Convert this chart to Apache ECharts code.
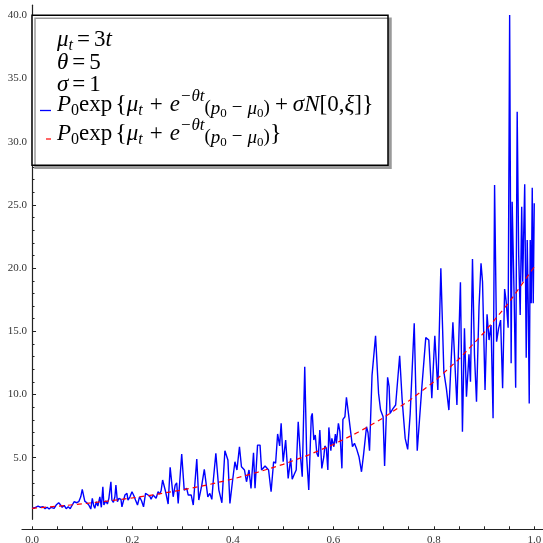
<!DOCTYPE html>
<html><head><meta charset="utf-8">
<script src="https://cdn.jsdelivr.net/npm/echarts@6/dist/echarts.min.js"></script>
<style>html,body{margin:0;padding:0;background:#fff}#c{width:543px;height:543px}</style>
</head><body><div id="c"></div>
<script>
// ---- data ----
const blueT = [0.000,0.005,0.012,0.017,0.022,0.026,0.030,0.034,0.038,0.044,0.048,0.053,0.057,0.060,0.064,0.068,0.072,0.076,0.080,0.084,0.089,0.093,0.097,0.100,0.105,0.109,0.113,0.117,0.120,0.123,0.125,0.128,0.131,0.135,0.138,0.141,0.143,0.147,0.150,0.153,0.157,0.159,0.162,0.165,0.167,0.170,0.173,0.177,0.179,0.185,0.189,0.191,0.195,0.199,0.203,0.206,0.210,0.214,0.218,0.222,0.226,0.228,0.231,0.235,0.237,0.241,0.244,0.247,0.251,0.254,0.257,0.260,
0.266,0.271,0.275,0.281,0.285,0.288,0.291,0.298,0.303,0.308,0.311,0.317,0.321,0.328,0.332,0.338,0.343,0.350,0.354,0.358,0.361,0.366,0.372,0.378,0.384,0.390,0.394,0.399,0.404,0.408,0.413,0.417,0.423,0.427,0.432,0.436,0.441,0.444,0.449,0.454,0.457,0.464,0.471,0.476,0.481,0.485,0.489,0.493,0.496,0.500,0.505,0.510,
0.515,0.518,0.523,0.526,0.530,0.534,0.538,0.543,0.547,0.551,0.556,0.558,0.561,0.564,0.567,0.570,0.573,0.575,0.577,0.581,0.583,0.586,0.589,0.591,0.595,0.597,0.601,0.604,0.606,0.610,0.613,0.617,0.619,0.623,0.626,0.630,0.634,0.638,0.642,0.646,0.651,0.656,0.660,0.666,0.669,0.672,0.677,0.684,0.690,0.694,0.699,0.702,0.708,0.711,0.713,0.719,0.724,0.727,0.732,0.737,0.743,0.748,0.753,0.761,0.767,
0.776,0.784,0.790,0.796,0.802,0.808,0.814,0.820,0.825,0.830,0.838,0.846,0.853,0.857,0.861,0.865,0.870,0.873,0.877,0.881,0.885,0.890,0.894,0.897,0.902,0.906,0.910,0.914,0.918,0.921,0.925,0.929,0.933,0.937,0.941,0.944,0.948,0.951,0.954,0.956,0.960,0.963,0.966,0.969,0.972,0.975,0.977,0.981,0.984,0.986,0.988,0.990,0.992,0.994,0.996,0.998,1.000];
const blueV = [1.00,1.04,1.18,1.08,1.12,0.97,1.08,0.94,1.08,1.00,1.26,1.44,1.26,1.08,1.23,0.97,1.12,0.97,1.26,1.52,1.44,1.52,1.91,2.50,1.57,1.44,1.26,0.94,1.79,1.18,1.00,1.52,1.18,1.91,1.08,2.71,1.26,1.60,1.34,1.79,3.10,1.65,1.47,1.91,2.84,1.52,1.79,1.71,1.12,2.05,2.18,1.65,1.91,2.31,1.97,1.65,1.26,1.91,1.60,1.12,2.18,2.31,2.05,1.91,1.71,2.05,2.18,1.79,2.31,2.13,2.39,3.24,
2.31,1.34,4.24,1.91,2.84,3.02,1.39,5.29,2.44,2.58,2.05,2.05,1.26,4.90,1.65,2.84,4.08,1.91,2.18,1.71,3.24,5.35,2.44,1.44,5.55,4.82,1.39,3.10,4.68,4.03,5.87,4.29,4.03,3.10,4.03,2.58,5.40,2.58,6.00,6.00,4.03,4.34,4.03,2.31,4.68,4.56,6.88,5.93,7.72,4.68,6.40,3.37,
4.95,3.30,3.77,4.03,7.85,5.35,3.50,12.20,4.95,2.45,8.24,8.51,6.40,6.80,5.35,5.08,7.19,7.19,4.16,5.08,5.93,5.74,4.03,7.40,5.55,6.53,5.87,6.88,6.14,7.72,7.06,4.16,8.04,8.24,9.78,8.51,7.19,5.87,6.14,5.74,5.08,3.89,5.21,7.45,6.98,5.55,11.54,14.65,10.09,8.77,8.24,4.34,11.36,10.62,8.51,8.91,9.17,9.17,13.07,9.56,6.53,5.66,8.51,15.63,5.55,
10.49,14.50,14.31,9.70,14.65,10.36,19.98,11.80,10.49,8.77,15.71,9.17,18.88,7.06,15.24,9.83,13.18,11.01,20.72,13.12,9.43,16.95,20.38,18.92,10.36,16.34,14.31,15.50,8.12,26.57,14.18,15.24,15.89,10.49,18.35,17.40,15.28,40.02,12.47,25.25,17.61,10.54,32.37,21.04,16.29,24.86,18.92,26.63,12.91,22.22,17.08,9.30,22.22,17.22,26.36,17.22,25.13];
const redT = [0.00,0.05,0.10,0.15,0.20,0.25,0.30,0.35,0.40,0.45,0.50,0.55,0.60,0.65,0.70,0.75,0.80,0.85,0.90,0.95,1.00];
const redV = [1.00,1.16,1.35,1.57,1.82,2.12,2.46,2.86,3.32,3.86,4.48,5.21,6.05,7.03,8.17,9.49,11.0,12.8,14.9,17.3,20.1];
const xTickLabels = [0.0,0.2,0.4,0.6,0.8,1.0];
const xTicks = [0.0,0.05,0.1,0.15,0.2,0.25,0.3,0.35,0.4,0.45,0.5,0.55,0.6,0.65,0.7,0.75,0.8,0.85,0.9,0.95,1.0];
const yTickLabels = [5,10,15,20,25,30,35,40];
const yMinorTicks = [1,2,3,4,6,7,8,9,11,12,13,14,16,17,18,19,21,22,23,24,26,27,28,29,31,32,33,34,36,37,38,39,40];

// ---- rich text styles for the legend ----
const FF = 'Liberation Serif';
const F = 23, S = 17, SM = 19, BR = 24;
function styles(H, k) {
  const o = {};
  const base = {fontFamily: FF, color: '#000'};
  const lo = (h) => ({height: h, lineHeight: Math.min(H, h), verticalAlign: 'bottom'});
  const hi = (h) => ({height: h, lineHeight: Math.min(H, h), verticalAlign: 'top'});
  o['i' + k] = Object.assign({fontStyle: 'italic', fontSize: F, lineHeight: H}, base);
  o['r' + k] = Object.assign({fontSize: F, lineHeight: H}, base);
  o['x' + k] = Object.assign({fontSize: F, lineHeight: H, padding: [0, 3, 0, 0]}, base);
  o['op' + k] = Object.assign({fontSize: F, lineHeight: H, padding: [0, 7, 0, 7]}, base);
  o['op2' + k] = Object.assign({fontSize: F, lineHeight: H, padding: [0, 5, 0, 5]}, base);
  o['eq' + k] = Object.assign({fontSize: F, lineHeight: H, padding: [0, 4, 0, 4]}, base);
  o['si' + k] = Object.assign({fontStyle: 'italic', fontSize: 16}, lo(H - 12), base);
  o['sr' + k] = Object.assign({fontSize: 16}, lo(H - 12), base);
  o['up' + k] = Object.assign({fontStyle: 'italic', fontSize: S}, hi(H - 16), base);
  o['mi' + k] = Object.assign({fontStyle: 'italic', fontSize: SM}, lo(H - 8), base);
  o['mr' + k] = Object.assign({fontSize: SM}, lo(H - 8), base);
  o['mo' + k] = Object.assign({fontSize: SM, padding: [0, 5, 0, 5]}, lo(H - 8), base);
  o['ms' + k] = Object.assign({fontSize: 13}, lo(Math.max(2, H - 18)), base);
  o['br' + k] = Object.assign({fontSize: BR, lineHeight: H}, base);
  return o;
}
const rich = Object.assign({}, styles(22, 'A'), styles(24, 'B'), styles(28, 'C'));
function formula(k, full) {
  let s = '{i' + k + '|P}{sr' + k + '|0}{x' + k + '|exp}{br' + k + '|{}' +
    '{i' + k + '|μ}{si' + k + '|t}{op' + k + '|+}{i' + k + '|e}{up' + k + '|−θt}' +
    '{mr' + k + '|(}{mi' + k + '|p}{ms' + k + '|0}{mo' + k + '|−}{mi' + k + '|μ}{ms' + k + '|0}{mr' + k + '|)}';
  if (full) s += '{op2' + k + '|+}{i' + k + '|σN}{r' + k + '|[0,}{i' + k + '|ξ}{r' + k + '|]}';
  return s + '}';
}
const legendText = {
  mu: '{iA|μ}{siA|t}{eqA|=}{rA|3}{iA|t}',
  theta: '{iA|θ}{eqA|=}{rA|5}',
  sigma: '{iA|σ}{eqA|=}{rA|1}',
  noisy: formula('B', true),
  mean: formula('C', false)
};
const legendItems = [
  {name: 'mu', icon: 'none'},
  {name: 'theta', icon: 'none'},
  {name: 'sigma', icon: 'none'},
  {name: 'noisy', icon: 'path://M0,-7M12,7M0,5.35h11v1.3h-11z', itemStyle: {color: '#0000ff', borderWidth: 0}},
  {name: 'mean', icon: 'path://M0,-7M12,7M6,4.9h5v1.2h-5z', itemStyle: {color: '#ff0000', borderWidth: 0}}
];
const legendCenters = [40.2, 63.3, 85.2, 108, 137];

const chart = echarts.init(document.getElementById('c'), null, {renderer: 'canvas'});
const axisColor = '#222';
const labelStyle = {fontFamily: FF, fontSize: 11, color: '#333'};
chart.setOption({
  animation: false,
  backgroundColor: '#fff',
  grid: {left: 22, right: -1.3, top: 5.2, bottom: 23.7, containLabel: false, outerBoundsMode: 'none'},
  xAxis: [{
    type: 'value', min: -0.02, max: 1.02, position: 'bottom', offset: 10,
    axisLine: {onZero: false, lineStyle: {color: axisColor, width: 1.2}},
    axisTick: {inside: true, length: 3, customValues: xTicks, lineStyle: {color: axisColor, width: 1}},
    axisLabel: Object.assign({customValues: xTickLabels, margin: 5, formatter: v => v.toFixed(1)}, labelStyle),
    splitLine: {show: false}
  }],
  yAxis: [{
    type: 'value', min: 0.13, max: 40.8, position: 'left', offset: -10.04,
    axisLine: {onZero: false, lineStyle: {color: axisColor, width: 1.2}},
    axisTick: {inside: true, length: 4, customValues: yTickLabels, lineStyle: {color: axisColor, width: 1}},
    axisLabel: Object.assign({customValues: yTickLabels, margin: 5, formatter: v => v.toFixed(1)}, labelStyle),
    splitLine: {show: false}
  }, {
    type: 'value', min: 0.13, max: 40.8, position: 'left', offset: -10.04,
    axisLine: {show: false, onZero: false},
    axisTick: {inside: true, length: 2.5, customValues: yMinorTicks, lineStyle: {color: axisColor, width: 1}},
    axisLabel: {show: false},
    splitLine: {show: false}
  }],
  graphic: [{
    type: 'rect', z: 20,
    shape: {x: 32, y: 15.3, width: 356, height: 150},
    style: {fill: '#fff', stroke: '#000', lineWidth: 1.5, shadowColor: '#9a9a9a', shadowBlur: 0, shadowOffsetX: 3, shadowOffsetY: 3}
  }],
  legend: legendItems.map((item, i) => ({
    orient: 'vertical', left: 40, top: legendCenters[i] - 20,
    padding: 0, itemWidth: 12, itemHeight: 40, itemGap: 0, z: 30,
    selectedMode: false, symbolKeepAspect: true,
    data: [item],
    formatter: name => legendText[name],
    textStyle: {fontFamily: FF, fontSize: BR, color: '#000', rich: rich}
  })),
  series: [
    {type: 'line', name: 'mu', data: []},
    {type: 'line', name: 'theta', data: []},
    {type: 'line', name: 'sigma', data: []},
    {
      type: 'line', name: 'noisy',
      data: blueT.map((t, i) => [t, blueV[i]]),
      symbol: 'none', showSymbol: false,
      lineStyle: {color: '#0000ff', width: 1.4}, itemStyle: {color: '#0000ff'}
    },
    {
      type: 'line', name: 'mean',
      data: redT.map((t, i) => [t, redV[i]]),
      symbol: 'none', showSymbol: false,
      lineStyle: {color: '#ff0000', width: 1.2, type: [5, 4]}, itemStyle: {color: '#ff0000'}
    }
  ]
});
</script></body></html>
